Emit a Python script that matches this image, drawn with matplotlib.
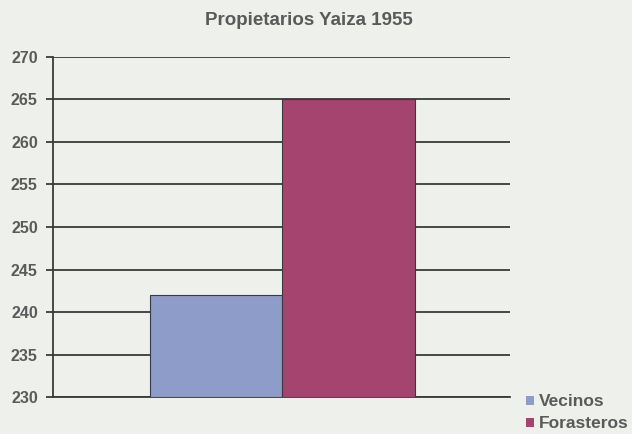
import matplotlib.pyplot as plt
from matplotlib.patches import Patch

categories = ["Vecinos", "Forasteros"]
values = [242, 265]
colors = ["#8e9cc9", "#a5446f"]
yticks = [230, 235, 240, 245, 250, 255, 260, 265, 270]

bg = "#eef0ec"
text_col = "#5a5a5a"
line_col = "#3a3a3a"

plt.rcParams["font.family"] = ["Liberation Sans", "DejaVu Sans"]

fig = plt.figure(figsize=(6.32, 4.34), dpi=100, facecolor=bg)
ax = fig.add_axes([0.084, 0.085, 0.723, 0.784], facecolor=bg)

x = list(range(len(categories)))
ax.bar(x, [v - yticks[0] for v in values], bottom=yticks[0], width=1.0,
       color=colors, edgecolor=line_col, linewidth=0.8, zorder=3)

ax.set_ylim(yticks[0], yticks[-1])
ax.set_xlim(-1.23, 2.22)
ax.set_yticks(yticks)
ax.set_xticks([])
ax.yaxis.grid(True, color=line_col, linewidth=1.3, zorder=1)
ax.set_axisbelow(True)
for s in ["top", "right"]:
    ax.spines[s].set_visible(False)
ax.spines["left"].set_color(line_col)
ax.spines["left"].set_linewidth(1.3)
ax.spines["bottom"].set_color(line_col)
ax.spines["bottom"].set_linewidth(1.3)
ax.tick_params(axis="y", length=5, width=1.3, color=line_col,
               labelsize=11.5, labelcolor=text_col, pad=6)
for lab in ax.get_yticklabels():
    lab.set_fontweight("bold")

fig.text(0.488, 0.952, "Propietarios Yaiza 1955", ha="center", va="center",
         fontsize=13.5, fontweight="bold", color=text_col)

handles = [Patch(facecolor=c, edgecolor="none") for c in colors]
leg = fig.legend(handles, categories, loc="lower left", bbox_to_anchor=(0.808, -0.03),
                 frameon=False, handlelength=0.45, handleheight=0.45, handletextpad=0.3,
                 labelspacing=0.4, prop={"size": 12.5, "weight": "bold"})
for t in leg.get_texts():
    t.set_color(text_col)

fig.savefig("out.png", dpi=100, facecolor=bg)
